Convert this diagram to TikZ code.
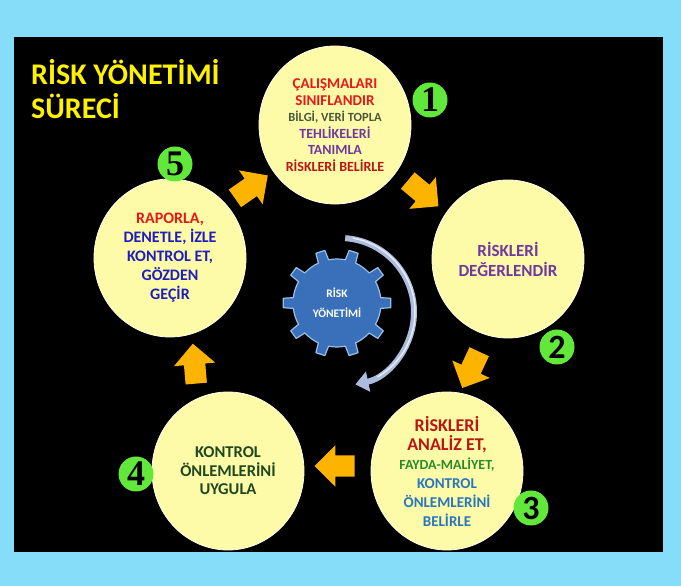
\documentclass[tikz,border=0pt]{standalone}
\usepackage{fontspec}
\setmainfont{Carlito}
\newfontfamily\digitserif{Liberation Serif}
\usetikzlibrary{arrows.meta,shapes.geometric,shapes.arrows}

\definecolor{skyback}{RGB}{133,221,250}
\definecolor{paleyellow}{RGB}{253,251,168}
\definecolor{floworange}{RGB}{252,180,0}
\definecolor{badgegreen}{RGB}{98,232,58}
\definecolor{gearblue}{RGB}{58,112,186}
\definecolor{gearedge}{RGB}{150,192,232}
\definecolor{turngrey}{RGB}{172,188,220}
\definecolor{tred}{RGB}{232,24,24}
\definecolor{tdarkred}{RGB}{185,22,22}
\definecolor{tolive}{RGB}{72,86,58}
\definecolor{tpurple}{RGB}{112,56,160}
\definecolor{tgreen}{RGB}{40,140,40}
\definecolor{tblue}{RGB}{40,118,190}
\definecolor{tnavy}{RGB}{30,30,190}
\definecolor{tforest}{RGB}{32,72,32}

\begin{document}
\begin{tikzpicture}[
  x=1pt,y=1pt,
  >=Stealth,
  every node/.style={font=\bfseries},
  stage/.style={ellipse,draw=white!80!paleyellow,line width=0.8pt,fill=paleyellow,
    minimum width=152pt,minimum height=158pt,inner sep=0pt,align=center},
  badge/.style={circle,fill=badgegreen,minimum size=35pt,inner sep=0pt},
  flow/.style={single arrow,fill=floworange,minimum height=40pt,inner sep=10.5pt,
    single arrow head extend=10pt,outer sep=0pt},
  turn/.style={line width=6pt,draw=turngrey,-{Triangle[width=20pt,length=13pt]}}
]
  \useasboundingbox (0,0) rectangle (681,586);
  \fill[skyback] (0,0) rectangle (681,586);
  \fill[black] (14,34) rectangle (663,549);

  \node[anchor=base west,inner sep=0pt,align=left,text=yellow,
        font=\bfseries\fontsize{30}{34}\selectfont] (title) at (31,467)
        {RİSK YÖNETİMİ\\SÜRECİ};

  % process steps
  \node[stage,font=\bfseries\fontsize{15}{16.5}\selectfont] (collect) at (335,461)
    {\textcolor{tred}{ÇALIŞMALARI}\\ \textcolor{tred}{SINIFLANDIR}\\
     {\fontsize{12.5}{16.5}\selectfont\textcolor{tolive}{BİLGİ, VERİ TOPLA}}\\
     {\fontsize{14}{16.5}\selectfont\textcolor{tpurple}{TEHLİKELERİ}}\\
     {\fontsize{14}{16.5}\selectfont\textcolor{tpurple}{TANIMLA}}\\
     {\fontsize{14}{16.5}\selectfont\textcolor{tdarkred}{RİSKLERİ BELİRLE}}};
  \node[stage,font=\bfseries\fontsize{17}{20}\selectfont,text=tpurple] (assess) at (508,327)
    {RİSKLERİ\\DEĞERLENDİR};
  \node[stage,font=\bfseries\fontsize{15}{19}\selectfont] (analyse) at (447,115)
    {{\fontsize{18}{19}\selectfont\textcolor{tdarkred}{RİSKLERİ}}\\
     {\fontsize{18}{19}\selectfont\textcolor{tdarkred}{ANALİZ ET,}}\\
     {\fontsize{14}{19}\selectfont\textcolor{tgreen}{FAYDA-MALİYET,}}\\
     \textcolor{tblue}{KONTROL}\\ \textcolor{tblue}{ÖNLEMLERİNİ}\\ \textcolor{tblue}{BELİRLE}};
  \node[stage,font=\bfseries\fontsize{16.5}{18.5}\selectfont,text=tforest] (apply) at (228,115)
    {KONTROL\\ÖNLEMLERİNİ\\UYGULA};
  \node[stage,font=\bfseries\fontsize{16}{19}\selectfont,text=tnavy] (review) at (170,328)
    {\textcolor{tred}{RAPORLA,}\\DENETLE, İZLE\\KONTROL ET,\\GÖZDEN\\GEÇİR};

  % step numbers
  \node[badge,font=\digitserif\bfseries\fontsize{36}{36}\selectfont] (num1) at (430,486) {1};
  \node[badge,font=\bfseries\fontsize{34}{34}\selectfont] (num2) at (557,239) {2};
  \node[badge,font=\bfseries\fontsize{34}{34}\selectfont] (num3) at (531,78) {3};
  \node[badge,font=\digitserif\bfseries\fontsize{36}{36}\selectfont] (num4) at (136,112) {4};
  \node[badge,font=\digitserif\bfseries\fontsize{36}{36}\selectfont] (num5) at (175,422) {5};

  % flow arrows
  \node[flow,rotate=35] (go51) at (247,396) {};
  \node[flow,rotate=-40] (go12) at (419,396) {};
  \node[flow,rotate=-115] (go23) at (473,221) {};
  \node[flow,rotate=180] (go34) at (340,120) {};
  \node[flow,rotate=95] (go45) at (195,217) {};

  % gear
  \coordinate (hub) at (337,283);
  \begin{scope}[shift={(hub)}]
    \filldraw[fill=gearblue,draw=gearedge,line width=1.2pt,line join=round] (-7:44)
      \foreach \i in {0,...,9}{
        -- ({\i*36-5}:54) -- ({\i*36+5}:54) -- ({\i*36+7}:44)
        arc[start angle=\i*36+7,end angle=\i*36+29,radius=44]
      } -- cycle;
  \end{scope}
  \node[text=white,align=center,font=\bfseries\fontsize{11.5}{20}\selectfont] (core) at (hub) {RİSK\\YÖNETİMİ};

  \coordinate (swing) at (340,274);
  \draw[turn] ([shift={(86:74)}]swing) arc[start angle=86,end angle=-78,radius=74];
  \draw[white!70!turngrey,line width=1.5pt] ([shift={(80:75)}]swing) arc[start angle=80,end angle=-60,radius=75];
\end{tikzpicture}
\end{document}
